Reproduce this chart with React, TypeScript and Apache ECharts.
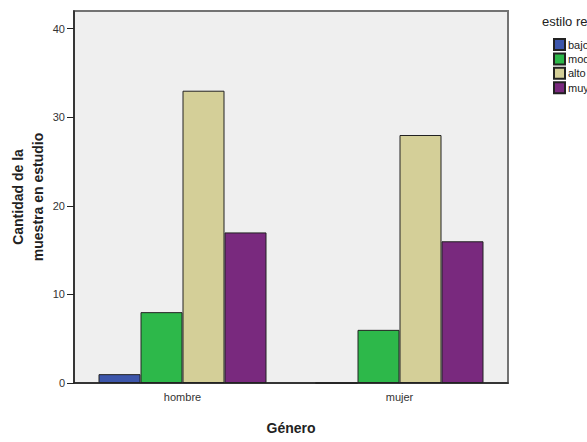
import React, { useEffect, useRef } from "react";
import * as echarts from "echarts";

const categories = ["hombre", "mujer"];
const seriesNames = ["bajo", "moderado", "alto", "muy alto"];
const bajo = [1, 0];
const moderado = [8, 6];
const alto = [33, 28];
const muyAlto = [17, 16];
const yTicks = [0, 10, 20, 30, 40];
const colors = ["#3d56ab", "#2db84a", "#d4cf98", "#79297e"];

export default function App() {
  const ref = useRef<HTMLDivElement>(null);
  useEffect(() => {
    document.body.style.margin = "0";
    const chart = echarts.init(ref.current!, null, { renderer: "svg" });
    const values = [bajo, moderado, alto, muyAlto];
    const font = "'Liberation Sans', Arial, sans-serif";
    chart.setOption({
      animation: false,
      textStyle: { fontFamily: font },
      title: {
        text: "estilo reflexivo",
        left: 542,
        top: 15,
        padding: 0,
        textStyle: { fontSize: 13, fontWeight: "normal", color: "#222", fontFamily: font },
      },
      legend: {
        orient: "vertical",
        left: 553,
        top: 38,
        padding: 0,
        itemWidth: 11,
        itemHeight: 11,
        itemGap: 1.4,
        icon: "rect",
        textStyle: { fontSize: 11, color: "#222", fontFamily: font, padding: [0, 0, 0, -2] },
        data: seriesNames,
      },
      grid: {
        left: 74,
        right: 79,
        top: 11,
        bottom: 59,
        outerBoundsMode: "none",
        containLabel: false,
        show: true,
        backgroundColor: "#efefef",
        borderColor: "#737373",
        borderWidth: 2,
      },
      xAxis: {
        type: "category",
        data: categories,
        name: "Género",
        nameLocation: "middle",
        nameGap: 38,
        nameTextStyle: { fontSize: 14, fontWeight: "bold", color: "#222", fontFamily: font },
        axisLine: { lineStyle: { color: "#222", width: 1.5 } },
        axisTick: { alignWithLabel: true, length: 6, lineStyle: { color: "#222" } },
        axisLabel: { fontSize: 11, color: "#333", margin: 8 },
      },
      yAxis: {
        type: "value",
        min: 0,
        max: 42,
        interval: 10,
        name: "Cantidad de la\nmuestra en estudio",
        nameLocation: "middle",
        nameGap: 26,
        nameMoveOverlap: false,
        nameTextStyle: { fontSize: 14, fontWeight: "bold", color: "#222", fontFamily: font, lineHeight: 20 },
        axisLine: { show: true, lineStyle: { color: "#222", width: 1.5 } },
        axisTick: { show: true, length: 7, customValues: yTicks, lineStyle: { color: "#222" } },
        axisLabel: { fontSize: 11, color: "#333", margin: 9, customValues: yTicks },
        splitLine: { show: false },
      },
      series: seriesNames.map((name, i) => ({
        name,
        type: "bar",
        data: values[i],
        barWidth: 42,
        barGap: "0%",
        itemStyle: { color: colors[i], borderColor: "#222", borderWidth: 1 },
      })),
    });
    return () => chart.dispose();
  }, []);
  return <div ref={ref} style={{ width: 587, height: 442 }} />;
}
